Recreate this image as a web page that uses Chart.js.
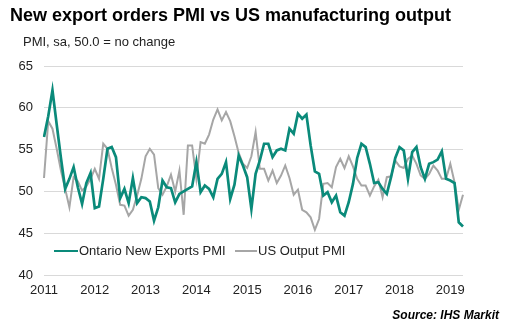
<!DOCTYPE html>
<html>
<head>
<meta charset="utf-8">
<script src="https://cdn.jsdelivr.net/npm/chart.js@4/dist/chart.umd.min.js"></script>
<style>
  html, body { margin: 0; padding: 0; background: #fff; }
  #wrap { position: relative; width: 508px; height: 332px; overflow: hidden; font-family: "Liberation Sans", Arial, sans-serif; }
  #chart { position: absolute; left: 0; top: 0; }
  .title { position: absolute; left: 10px; top: 5px; font-size: 18px; font-weight: bold; color: #000; white-space: nowrap; }
  .sub { position: absolute; left: 23px; top: 34px; font-size: 13px; color: #222; white-space: nowrap; }
  .source { position: absolute; right: 9px; top: 308px; font-size: 12px; font-weight: bold; font-style: italic; color: #000; }
  .legend { position: absolute; top: 243px; font-size: 13px; color: #222; white-space: nowrap; }
  .legend i { display: inline-block; width: 24px; height: 0; vertical-align: middle; margin-right: 1px; position: relative; top: -1px; }
</style>
</head>
<body>
<div id="wrap">
  <canvas id="chart" width="508" height="332"></canvas>
  <div class="title">New export orders PMI vs US manufacturing output</div>
  <div class="sub">PMI, sa, 50.0 = no change</div>
  <div class="legend" style="left:54px"><i style="border-top:2.5px solid #0a8a7a"></i>Ontario New Exports PMI</div>
  <div class="legend" style="left:235px"><i style="border-top:2px solid #a6a6a6;width:22px"></i>US Output PMI</div>
  <div class="source">Source: IHS Markit</div>
</div>
<script>
// 年份和每年的月数（2011年1月 - 2019年4月）
const years = ['2011', '2012', '2013', '2014', '2015', '2016', '2017', '2018', '2019'];
const monthsInYear = [12, 12, 12, 12, 12, 12, 12, 12, 4];

// Ontario New Exports PMI
const ontarioExports = [
    56.5, 59.0, 62.1, 58.0, 54.0, 50.3, 51.5, 52.9, 50.5, 48.5, 51.0, 52.2,
    48.0, 48.2, 51.5, 55.1, 55.3, 54.1, 49.2, 50.3, 48.6, 51.6, 48.6, 49.3,
    49.2, 48.8, 46.5, 48.1, 51.3, 50.5, 50.4, 48.7, 49.7, 50.0, 50.3, 50.6,
    53.5, 49.9, 50.7, 50.3, 49.3, 51.5, 52.1, 53.5, 49.1, 50.8, 54.3, 53.1,
    51.7, 47.9, 52.1, 53.7, 55.7, 55.7, 54.1, 54.9, 55.1, 54.9, 57.5, 56.9,
    59.3, 58.7, 59.2, 55.5, 52.4, 52.1, 49.5, 49.9, 48.7, 49.5, 47.5, 47.1,
    48.7, 50.9, 54.0, 55.7, 55.3, 53.3, 51.0, 51.1, 50.3, 49.7, 51.7, 54.0,
    55.3, 54.9, 51.5, 54.7, 55.3, 52.9, 51.5, 53.3, 53.5, 53.8, 54.8, 51.5,
    51.3, 51.0, 46.3, 45.8
];

// US Output PMI
const usOutput = [
    51.6, 58.4, 57.5, 55.1, 52.5, 50.3, 48.1, 51.7, 51.2, 50.1, 50.6, 51.5,
    52.7, 51.5, 55.7, 55.1, 52.8, 50.8, 48.4, 48.3, 47.1, 47.8, 49.5, 51.5,
    54.2, 55.1, 54.4, 50.4, 49.6, 50.6, 52.0, 50.0, 52.5, 47.2, 55.5, 55.5,
    51.5, 55.9, 55.7, 56.8, 58.6, 59.8, 58.5, 59.5, 58.4, 56.6, 54.6, 53.3,
    52.8, 54.2, 57.1, 52.7, 52.7, 51.3, 52.5, 51.0, 51.9, 53.1, 51.6, 49.6,
    50.2, 47.8, 47.5, 46.9, 45.4, 46.7, 50.9, 51.0, 50.5, 52.9, 53.9, 52.8,
    54.2, 53.0, 51.5, 50.7, 50.7, 49.5, 50.6, 51.4, 49.3, 51.7, 51.8, 53.7,
    53.0, 52.8, 53.9, 54.3, 53.3, 51.9, 51.5, 52.1, 53.1, 52.5, 51.5, 51.5,
    53.3, 51.1, 47.8, 49.6
];

// y轴刻度
const yMin = 40;
const yMax = 65;
const yStep = 5;

// 生成月份标签：每年一月显示年份
const labels = [];
years.forEach((y, i) => {
    for (let m = 0; m < monthsInYear[i]; m++) {
        labels.push(m === 0 ? y : '');
    }
});

const tickFont = { family: '"Liberation Sans", Arial, sans-serif', size: 13 };

new Chart(document.getElementById('chart'), {
    type: 'line',
    data: {
        labels: labels,
        datasets: [
            {
                label: 'US Output PMI',
                data: usOutput,
                borderColor: '#a6a6a6',
                borderWidth: 2,
                pointRadius: 0,
                tension: 0,
                order: 2
            },
            {
                label: 'Ontario New Exports PMI',
                data: ontarioExports,
                borderColor: '#0a8a7a',
                borderWidth: 2.7,
                pointRadius: 0,
                tension: 0,
                order: 1
            }
        ]
    },
    options: {
        responsive: false,
        animation: false,
        layout: { padding: { left: 0, right: 45, top: 66, bottom: 32 } },
        plugins: {
            legend: { display: false },
            tooltip: { enabled: false }
        },
        scales: {
            x: {
                offset: false,
                grid: { display: false, drawTicks: false },
                border: { display: false },
                ticks: {
                    autoSkip: false,
                    maxRotation: 0,
                    padding: 8,
                    color: '#222',
                    font: tickFont,
                    callback: (v, i) => labels[i]
                },
                afterFit: (s) => { s.height = 25; }
            },
            y: {
                min: yMin,
                max: yMax,
                grid: { color: '#d9d9d9', lineWidth: 1, drawTicks: false },
                border: { display: false },
                ticks: {
                    stepSize: yStep,
                    padding: 11,
                    color: '#222',
                    font: tickFont
                },
                afterFit: (s) => { s.width = 44; }
            }
        }
    }
});
</script>
</body>
</html>
